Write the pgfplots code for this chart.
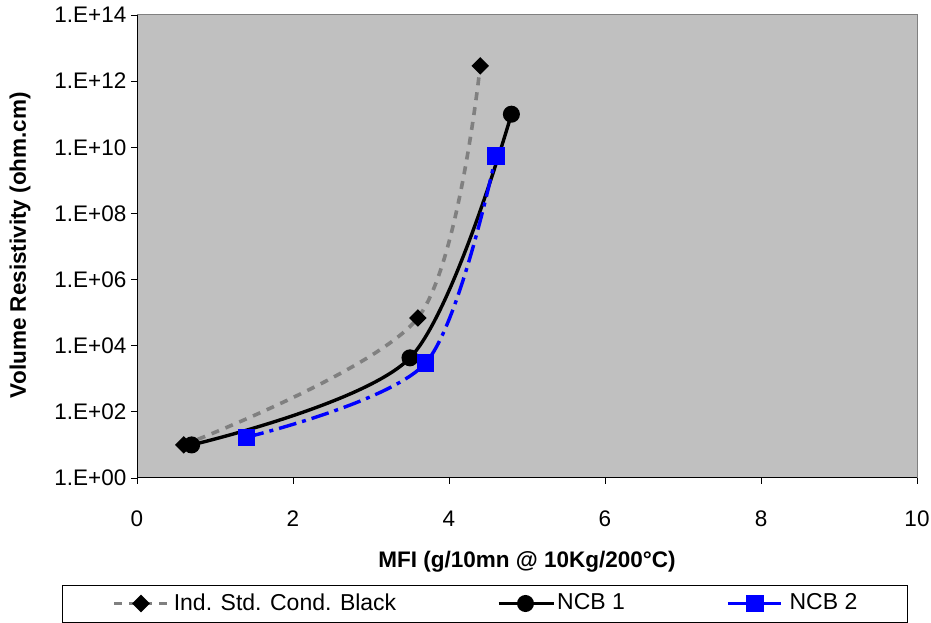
\documentclass[border=0pt]{standalone}
\usepackage{fontspec}
\setmainfont{Liberation Sans}
\usepackage{pgfplots}
\pgfplotsset{compat=1.18}
\definecolor{plotbg}{HTML}{C0C0C0}
\definecolor{indgray}{HTML}{808080}
\definecolor{ncbblue}{HTML}{0000FF}

\begin{document}
\fontsize{22.5}{26}\selectfont
\begin{tikzpicture}
\begin{axis}[
    at={(0,0)}, anchor=south west,
    scale only axis, width=780pt, height=463pt,
    ymode=log,
    xmin=0, xmax=10, ymin=1, ymax=1e14,
    xtick={0,2,4,6,8,10}, xticklabels={0,2,4,6,8,10},
    ytick={1,1e2,1e4,1e6,1e8,1e10,1e12,1e14},
    yticklabels={1.E+00,1.E+02,1.E+04,1.E+06,1.E+08,1.E+10,1.E+12,1.E+14},
    yminorticks=false, xminorticks=false,
    xtick pos=bottom, ytick pos=left,
    tick align=outside, major tick length=6pt,
    tick style={black, line width=0.8pt},
    xticklabel style={yshift=-19pt},
    yticklabel style={xshift=3pt},
    axis line style={draw=none},
    axis background/.style={fill=plotbg},
    xlabel={\bfseries MFI (g/10mn @ 10Kg/200°C)},
    ylabel={\bfseries Volume Resistivity (ohm.cm)},
    xlabel style={at={(axis description cs:0.5,-0.1814)}, anchor=center},
    ylabel style={at={(axis description cs:-0.15,0.503)}, anchor=center, rotate=0},
    legend columns=3,
    legend style={draw=none, fill=none, at={(-0.03205,-0.27106)}, anchor=west,
        column sep=0pt, inner sep=0pt, font=\fontsize{23}{26}\selectfont,
        cells={anchor=west, inner xsep=0pt}},
    legend image code/.code={\draw[mark repeat=2,mark phase=2] plot coordinates {(0pt,0pt) (27pt,0pt) (55pt,0pt)};},
]
\addplot[indgray, line width=3.6pt, dash pattern=on 8pt off 7pt, smooth,
    mark=square*, mark size=4.4pt, mark options={solid, black, fill=black, rotate=45}]
    coordinates {(0.6,10) (3.6,6.9e4) (4.4,2.9e12)};
\addplot[black, line width=3.4pt, smooth,
    mark=*, mark size=6.8pt, mark options={solid, black, fill=black}]
    coordinates {(0.7,10) (3.5,4.3e3) (4.8,1e11)};
\addplot[ncbblue, line width=3.4pt, dash pattern=on 18pt off 6pt on 4pt off 6pt, smooth,
    mark=square*, mark size=7pt, mark options={solid, ncbblue, fill=ncbblue}]
    coordinates {(1.4,17) (3.7,3e3) (4.6,5.5e9)};
\legend{\makebox[322pt][l]{\hspace{1pt}Ind. Std. Cond. Black},
        \makebox[167pt][l]{\hspace{0pt}NCB 1},
        \makebox[80pt][l]{\hspace{3pt}NCB 2}}
\end{axis}
\draw[indgray, line width=1pt] (0,463pt) -- (780pt,463pt) -- (780pt,0);
\draw[black, line width=1pt] (0,463pt) -- (0,0) -- (780pt,0);
\draw[black, line width=1pt] (-74pt,-107pt) rectangle (770pt,-144pt);
\pgfresetboundingbox
\path (-137pt,-145pt) rectangle (794pt,478pt);
\end{tikzpicture}
\end{document}
